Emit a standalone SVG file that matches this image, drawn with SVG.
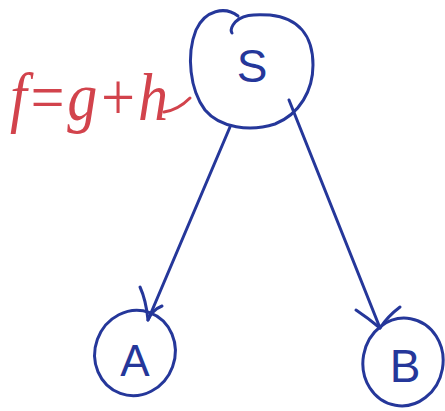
<svg xmlns="http://www.w3.org/2000/svg" width="445" height="411" viewBox="0 0 445 411">
<style>
.ink{fill:none;stroke:#25379a;stroke-width:3;stroke-linecap:round;stroke-linejoin:round}
.lbl{font-family:"Liberation Sans",sans-serif;fill:#25379a;text-anchor:middle}
.red{font-family:"Liberation Serif",serif;font-style:italic;fill:#d2434c}
</style>
<rect width="445" height="411" fill="#ffffff"/>
<g id="connectors">
<path class="ink" d="M230,127 L148,320"/>
<path class="ink" d="M140,287 Q146,300 148,320 Q152,310 162,306"/>
<path class="ink" d="M289,100 L380,328"/>
<path class="ink" d="M356,310 Q368,318 380,328 Q388,316 400,307"/>
</g>
<g id="S">
<path class="ink" d="M238,16 C225,6 205,10 196,30 C186,55 190,90 205,110 C220,128 250,132 275,124 C300,114 313,90 313,65 C313,35 298,18 270,15 C255,14 240,14 233,25 C230,30 232,33 232,33"/>
<text class="lbl" x="252" y="82" font-size="46">S</text>
</g>
<g id="A">
<ellipse class="ink" cx="135" cy="353" rx="40" ry="43" transform="rotate(20 135 353)"/>
<text class="lbl" x="135" y="376" font-size="44">A</text>
</g>
<g id="B">
<ellipse class="ink" cx="403" cy="362" rx="40" ry="44" transform="rotate(10 403 362)"/>
<text class="lbl" x="405" y="382" font-size="46">B</text>
</g>
<g id="label">
<text class="red" x="10" y="120" font-size="68" textLength="158" lengthAdjust="spacingAndGlyphs">f=g+h</text>
<path d="M164,112 Q178,110 190,98" fill="none" stroke="#d2434c" stroke-width="3" stroke-linecap="round"/>
</g>
</svg>
